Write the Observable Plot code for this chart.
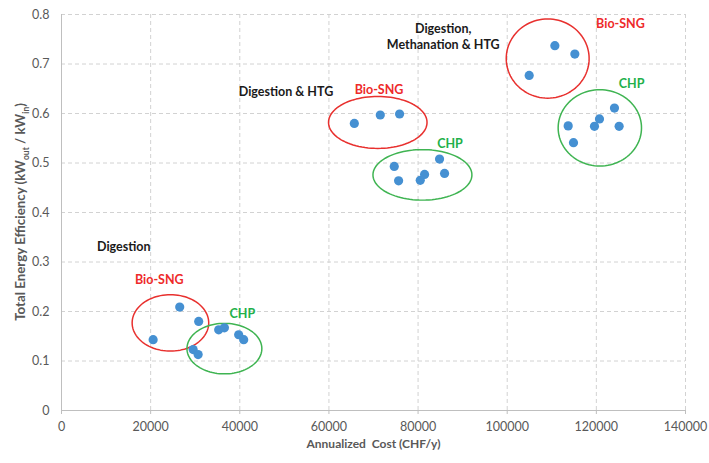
<!DOCTYPE html>
<html><head><meta charset="utf-8">
<script src="https://cdn.jsdelivr.net/npm/d3@7"></script>
<script src="https://cdn.jsdelivr.net/npm/@observablehq/plot@0.6"></script>
<style>
body{margin:0;background:#fff;}
#chart svg{font-family:Lato,"Open Sans","Liberation Sans",sans-serif;background:#fff;}
</style>
</head><body><div id="chart"></div>
<script>
// Axis ticks
const xTicks = [0, 20000, 40000, 60000, 80000, 100000, 120000, 140000];
const yTicks = [0, 0.1, 0.2, 0.3, 0.4, 0.5, 0.6, 0.7, 0.8];

// Scenario groups (cost CHF/y, efficiency kWout/kWin)
const groupNames = ["Digestion Bio-SNG", "Digestion CHP", "Digestion & HTG Bio-SNG", "Digestion & HTG CHP", "Digestion, Methanation & HTG Bio-SNG", "Digestion, Methanation & HTG CHP"];
const costDigSNG = [20560, 26520, 30780];
const effDigSNG  = [0.143, 0.209, 0.180];
const costDigCHP = [29530, 30650, 35270, 36550, 39750, 40880];
const effDigCHP  = [0.123, 0.113, 0.163, 0.167, 0.153, 0.143];
const costHtgSNG = [65700, 71520, 75850];
const effHtgSNG  = [0.580, 0.597, 0.599];
const costHtgCHP = [74660, 75630, 80490, 81460, 84820, 85940];
const effHtgCHP  = [0.493, 0.464, 0.465, 0.477, 0.508, 0.479];
const costMetSNG = [104930, 110690, 115170];
const effMetSNG  = [0.677, 0.737, 0.720];
const costMetCHP = [113680, 114870, 119580, 120700, 124060, 125110];
const effMetCHP  = [0.575, 0.541, 0.574, 0.589, 0.611, 0.574];

// Group ellipses (centre and half-axes in data units)
const ellipseCx = [24440, 36550, 70960, 80980, 109080, 120780];
const ellipseCy = [0.177, 0.125, 0.582, 0.476, 0.711, 0.571];
const ellipseRx = [8590, 8400, 11050, 11100, 9300, 9350];
const ellipseRy = [0.057, 0.051, 0.0525, 0.051, 0.080, 0.077];
const ellipseColor = ["#e8302e", "#3fb452", "#e8302e", "#3fb452", "#e8302e", "#3fb452"];

// Annotations
const labelText = ["Digestion", "Bio-SNG", "CHP", "Digestion & HTG", "Bio-SNG", "CHP", "Digestion,\nMethanation & HTG", "Bio-SNG", "CHP"];
const labelX = [13970, 21930, 40580, 50370, 71250, 87150, 85650, 125400, 127900];
const labelY = [0.333, 0.267, 0.197, 0.646, 0.650, 0.542, 0.757, 0.784, 0.663];
const labelColor = ["#1a1a1a", "#ee2a2a", "#22b04a", "#1a1a1a", "#ee2a2a", "#22b04a", "#1a1a1a", "#ee2a2a", "#22b04a"];

const xTitle = "Annualized  Cost (CHF/y)";
const yTitle = "Total Energy Efficiency (kW_out / kW_in)";

const groupCosts = [costDigSNG, costDigCHP, costHtgSNG, costHtgCHP, costMetSNG, costMetCHP];
const groupEffs = [effDigSNG, effDigCHP, effHtgSNG, effHtgCHP, effMetSNG, effMetCHP];
const points = [];
groupCosts.forEach((cs, g) => cs.forEach((c, i) => points.push({group: groupNames[g], cost: c, eff: groupEffs[g][i]})));

const outline = [];
ellipseCx.forEach((cx, g) => {
  for (let k = 0; k <= 96; k++) {
    const t = 2 * Math.PI * k / 96;
    outline.push({g, x: cx + ellipseRx[g] * Math.cos(t), y: ellipseCy[g] + ellipseRy[g] * Math.sin(t), c: ellipseColor[g]});
  }
});

const labels = labelText.map((t, i) => ({t, x: labelX[i], y: labelY[i], c: labelColor[i]}));

const chart = Plot.plot({
  width: 709,
  height: 463,
  marginLeft: 61,
  marginRight: 24,
  marginTop: 14,
  marginBottom: 53,
  style: {fontSize: "12.5px", fontFamily: "Lato, 'Open Sans', sans-serif"},
  x: {domain: [0, 140000], ticks: xTicks},
  y: {domain: [0, 0.8], ticks: yTicks},
  color: {type: "identity"},
  marks: [
    Plot.gridX(xTicks.filter(d => d > 0), {stroke: "#d2d2d2", strokeOpacity: 1, strokeDasharray: "4,3"}),
    Plot.gridY(yTicks.filter(d => d > 0), {stroke: "#d2d2d2", strokeOpacity: 1, strokeDasharray: "4,3"}),
    Plot.ruleX([0], {stroke: "#bfbfbf"}),
    Plot.ruleY([0], {stroke: "#bfbfbf"}),
    Plot.axisX(xTicks, {tickSize: 4, tickPadding: 8, stroke: "#bfbfbf", fill: "#595959", tickFormat: d => String(d), label: null, fontSize: 12.5}),
    Plot.axisY(yTicks, {tickSize: 0, tickPadding: 12, fill: "#595959", tickFormat: d => String(d), label: null, fontSize: 12.5}),
    Plot.line(outline, {x: "x", y: "y", z: "g", stroke: "c", strokeWidth: 1.5}),
    Plot.dot(points, {x: "cost", y: "eff", r: 4.6, fill: "#4590d2", stroke: "none"}),
    Plot.text(labels, {x: "x", y: "y", text: "t", fill: "c", fontWeight: "bold", fontSize: 12.5, lineHeight: 1.33, textAnchor: "middle"}),
    Plot.text([xTitle], {frameAnchor: "bottom", dy: 37, fill: "#595959", fontWeight: "bold", fontSize: 12})
  ]
});

// y-axis title with subscripts
const svgNS = "http://www.w3.org/2000/svg";
const yt = document.createElementNS(svgNS, "text");
yt.setAttribute("transform", `translate(22,${(14 + 410) / 2}) rotate(-90)`);
yt.setAttribute("text-anchor", "middle");
yt.setAttribute("dominant-baseline", "middle");
yt.setAttribute("fill", "#595959");
yt.setAttribute("font-weight", "bold");
yt.setAttribute("font-size", "13.3");
const parts = yTitle.split(/(_out|_in)/);
parts.forEach(p => {
  const ts = document.createElementNS(svgNS, "tspan");
  if (p === "_out" || p === "_in") {
    ts.textContent = p.slice(1);
    ts.setAttribute("baseline-shift", "sub");
    ts.setAttribute("font-size", "8.5");
  } else {
    ts.textContent = p;
  }
  yt.appendChild(ts);
});
chart.appendChild(yt);

document.getElementById("chart").appendChild(chart);
</script>
</body></html>
